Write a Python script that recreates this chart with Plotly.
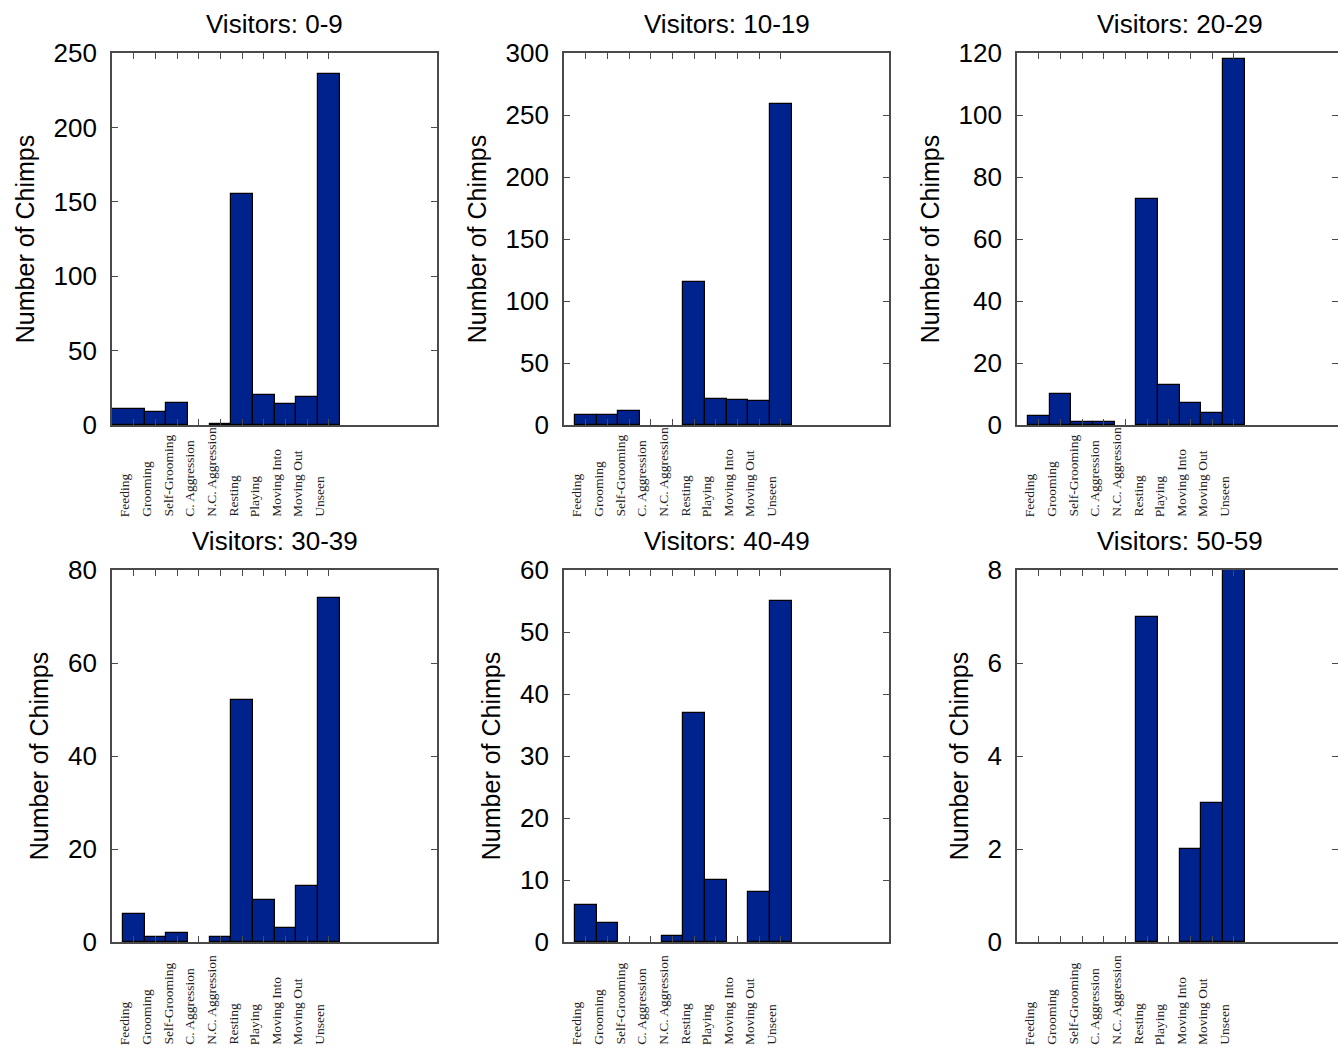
import plotly.graph_objects as go

categories = ["Feeding", "Grooming", "Self-Grooming", "C. Aggression", "N.C. Aggression",
              "Resting", "Playing", "Moving Into", "Moving Out", "Unseen"]

panel_titles = ["Visitors: 0-9", "Visitors: 10-19", "Visitors: 20-29",
                "Visitors: 30-39", "Visitors: 40-49", "Visitors: 50-59"]

visitors_0_9 = [11, 9, 15, 0, 1, 155, 20, 14, 19, 236]
visitors_10_19 = [8, 8, 11, 0, 0, 115, 21, 20, 19, 259]
visitors_20_29 = [3, 10, 1, 1, 0, 73, 13, 7, 4, 118]
visitors_30_39 = [6, 1, 2, 0, 1, 52, 9, 3, 12, 74]
visitors_40_49 = [6, 3, 0, 0, 1, 37, 10, 0, 8, 55]
visitors_50_59 = [0, 0, 0, 0, 0, 7, 0, 2, 3, 8]

series = [visitors_0_9, visitors_10_19, visitors_20_29,
          visitors_30_39, visitors_40_49, visitors_50_59]
y_max = [250, 300, 120, 80, 60, 8]
y_step = [50, 50, 20, 20, 10, 2]

W, H = 1338, 1050
BAR = "#00228c"
AX = "#4a4a4a"

# pixel geometry of plot areas
col_px = [(112, 437), (564, 889), (1017, 1342)]
row_px = [(53, 425), (570, 942)]
label_bottom_px = [519, 1047]

fig = go.Figure()
x_pos = list(range(1, len(categories) + 1))

for i, vals in enumerate(series):
    r, c = divmod(i, 3)
    n = i + 1
    xa = "x" if n == 1 else f"x{n}"
    ya = "y" if n == 1 else f"y{n}"
    widths = [1.0] * len(vals)
    offsets = [-0.5] * len(vals)
    if i == 0:
        widths[0] = 1.5
        offsets[0] = -1.0
    edge_w = [1.2 if v > 0 else 0 for v in vals]
    fig.add_trace(go.Bar(
        x=x_pos, y=vals, width=widths, offset=offsets,
        marker=dict(color=BAR, line=dict(color="black", width=edge_w)),
        xaxis=xa, yaxis=ya, showlegend=False, hoverinfo="skip",
    ))

    x0, x1 = col_px[c]
    y0, y1 = row_px[r]
    full_w = x1 - x0
    x1c = min(x1, W)
    xr = 15 * (x1c - x0) / full_w
    xdom = [x0 / W, x1c / W]
    ydom = [1 - y1 / H, 1 - y0 / H]
    key = "" if n == 1 else str(n)
    fig.layout["xaxis" + key] = dict(
        domain=xdom, range=[0, xr], anchor=ya, automargin=False,
        tickmode="array", tickvals=x_pos, showticklabels=False,
        ticks="inside", ticklen=6, tickcolor=AX, tickwidth=1,
        showline=True, linecolor=AX, linewidth=1.6, mirror="ticks",
        showgrid=False, zeroline=False, fixedrange=True,
    )
    fig.layout["yaxis" + key] = dict(
        domain=ydom, range=[0, y_max[i]], anchor=xa, automargin=False,
        tickmode="linear", tick0=0, dtick=y_step[i],
        ticks="inside", ticklen=6, tickcolor=AX, tickwidth=1,
        showline=True, linecolor=AX, linewidth=1.6, mirror="ticks",
        showgrid=False, zeroline=False, fixedrange=True,
        tickfont=dict(family="Liberation Sans, Arial", size=26, color="black"),
        ticklabelstandoff=8,
        title=dict(text="Number of Chimps", standoff=12,
                   font=dict(family="Liberation Sans, Arial", size=25, color="black")),
    )
    # panel title
    fig.add_annotation(
        text=panel_titles[i], xref=f"{xa} domain", yref=f"{ya} domain",
        x=(full_w / 2) / (x1c - x0), y=1, yshift=29,
        xanchor="center", yanchor="middle", showarrow=False,
        font=dict(family="Liberation Sans, Arial", size=26, color="black"),
    )
    # category labels (rotated, bottom-aligned)
    ylab = (y1 - label_bottom_px[r]) / (y1 - y0)
    for xp, cat in zip(x_pos, categories):
        fig.add_annotation(
            text=cat, xref=xa, yref=f"{ya} domain", x=xp, y=ylab,
            xanchor="right", yanchor="bottom", textangle=-90, showarrow=False,
            font=dict(family="Liberation Serif, Times New Roman", size=13.5, color="#222"),
        )

fig.update_layout(
    width=W, height=H, margin=dict(l=0, r=0, t=0, b=0, pad=0, autoexpand=False),
    paper_bgcolor="white", plot_bgcolor="white", bargap=0,
)

fig.write_html("out.html", config={"displayModeBar": False},
               post_script="document.body.style.margin='0';document.body.style.overflow='hidden';")
